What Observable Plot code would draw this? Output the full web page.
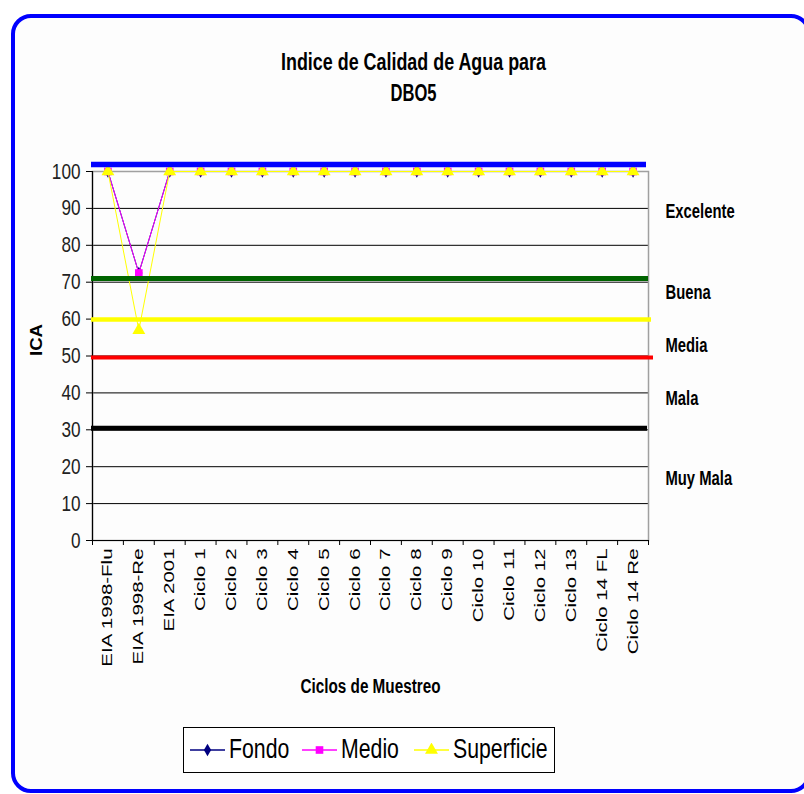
<!DOCTYPE html>
<html>
<head>
<meta charset="utf-8">
<script src="https://cdn.jsdelivr.net/npm/d3@7"></script>
<script src="https://cdn.jsdelivr.net/npm/@observablehq/plot@0.6"></script>
<style>
  body { margin: 0; background: #ffffff; }
  #wrap { position: relative; width: 804px; height: 794px; overflow: hidden; background: #ffffff; }
  #border { position: absolute; left: 11px; top: 14px; width: 800px; height: 779px; border: 4.5px solid #0000ff; border-radius: 20px; box-sizing: border-box; background: #fdfdfd; }
  #chart { position: absolute; left: 0; top: 0; }
  #legend { position: absolute; left: 183px; top: 727px; width: 372px; height: 46px; box-sizing: border-box; border: 1px solid #000; background: #fff;
            font-family: "Liberation Sans", Arial, sans-serif; font-size: 28px; color: #000; }
  .sw { position: absolute; top: 15px; line-height: 0; }
  .sw svg { display: block; }
  .lt { position: absolute; top: 4px; line-height: 34px; transform: scaleX(0.76); transform-origin: 0 50%; white-space: nowrap; }
</style>
</head>
<body>
<div id="wrap">
  <div id="border"></div>
  <div id="chart"></div>
  <div id="legend"></div>
</div>
<script>
// ---- data ----
const categories = ["EIA 1998-Flu", "EIA 1998-Re", "EIA 2001", "Ciclo 1", "Ciclo 2", "Ciclo 3", "Ciclo 4",
  "Ciclo 5", "Ciclo 6", "Ciclo 7", "Ciclo 8", "Ciclo 9", "Ciclo 10", "Ciclo 11", "Ciclo 12", "Ciclo 13",
  "Ciclo 14 FL", "Ciclo 14 Re"];
const seriesNames = ["Fondo", "Medio", "Superficie"];
const fondo      = [100, 72.5, 100, 100, 100, 100, 100, 100, 100, 100, 100, 100, 100, 100, 100, 100, 100, 100];
const medio      = [100, 72.5, 100, 100, 100, 100, 100, 100, 100, 100, 100, 100, 100, 100, 100, 100, 100, 100];
const superficie = [100, 57,   100, 100, 100, 100, 100, 100, 100, 100, 100, 100, 100, 100, 100, 100, 100, 100];
const yTicks = [0, 10, 20, 30, 40, 50, 60, 70, 80, 90, 100];
const gridValues = [10, 20, 30, 40, 50, 60, 70, 80, 90];
const thresholdValues = [101.9, 71.0, 59.9, 49.6, 30.4];
const qualityLabels = ["Excelente", "Buena", "Media", "Mala", "Muy Mala"];
const qualityLabelValues = [89.2, 67.3, 52.8, 38.4, 16.7];
const titleLines = ["Indice de Calidad de Agua para", "DBO5"];
const xTitle = "Ciclos de Muestreo";
const yTitle = "ICA";

// ---- styles ----
const seriesColors = ["#000080", "#ff00ff", "#ffff00"];
const seriesSymbols = ["diamond", "square", "triangle"];
const seriesR = [3.8, 4.3, 4.8];
const thresholdColors = ["#0000ff", "#006400", "#ffff00", "#ff0000", "#000000"];
const thresholdWidths = [5.5, 5, 4.5, 4, 5];
const thresholdExtend = [-2, 0, 3, 5, -1];
const arial = '"Liberation Sans", Arial, sans-serif';

const seriesData = [fondo, medio, superficie].map(vals => vals.map((v, i) => ({i, v})));
const boundaries = d3.range(categories.length + 1).map(i => i - 0.5);
const indices = d3.range(categories.length);

const marks = [
  Plot.gridY(gridValues, {stroke: "#000", strokeOpacity: 1, strokeWidth: 1}),
  Plot.frame({stroke: "#a0a0a0", strokeWidth: 1.5}),
  Plot.ruleY([0], {stroke: "#000", strokeWidth: 1.2}),
  Plot.ruleX([-0.5], {stroke: "#000", strokeWidth: 1.2}),
  Plot.axisY({ticks: yTicks, tickSize: 6, tickPadding: 6, stroke: "#000", fill: "#222", fontSize: 22, fontFamily: arial, label: null}),
  Plot.axisX({ticks: boundaries, tickSize: 5, stroke: "#000", fill: "none", label: null}),
  Plot.axisX({ticks: indices, tickSize: 0, tickPadding: 8, tickRotate: -90, textAnchor: "end",
    tickFormat: i => categories[i], fontSize: 14, fontFamily: arial, fill: "#000", label: null})
];
seriesData.forEach((d, s) => {
  marks.push(Plot.line(d, {x: "i", y: "v", stroke: seriesColors[s], strokeWidth: 1}));
  marks.push(Plot.dot(d, {x: "i", y: "v", symbol: seriesSymbols[s], r: seriesR[s], fill: seriesColors[s], stroke: "none"}));
});
thresholdValues.forEach((v, k) => {
  marks.push(Plot.ruleY([v], {stroke: thresholdColors[k], strokeWidth: thresholdWidths[k], insetLeft: -1, insetRight: -thresholdExtend[k]}));
});
marks.push(
  Plot.text([titleLines[0]], {ariaLabel: () => "title1", frameAnchor: "top", lineAnchor: "middle", dx: 43, dy: -109,
    fontSize: 23, fontWeight: "bold", fontFamily: arial, fill: "#000"}),
  Plot.text([titleLines[1]], {ariaLabel: () => "title2", frameAnchor: "top", lineAnchor: "middle", dx: 43, dy: -78,
    fontSize: 23, fontWeight: "bold", fontFamily: arial, fill: "#000"}),
  Plot.text([xTitle], {ariaLabel: () => "xtitle", frameAnchor: "bottom", lineAnchor: "middle", dy: 146, fontSize: 20, fontWeight: "bold", fontFamily: arial, fill: "#000"}),
  Plot.text([yTitle], {ariaLabel: () => "ytitle", frameAnchor: "left", dx: -56, rotate: -90, fontSize: 17, fontWeight: "bold", fontFamily: arial, fill: "#000"}),
  Plot.text(qualityLabels, {ariaLabel: () => "quality", y: (d, i) => qualityLabelValues[i], frameAnchor: "right", dx: 17, textAnchor: "start",
    fontSize: 20, fontWeight: "bold", fontFamily: arial, fill: "#000"})
);

const chart = Plot.plot({
  width: 804,
  height: 794,
  marginLeft: 92,
  marginRight: 156,
  marginTop: 171,
  marginBottom: 254,
  style: {background: "transparent", overflow: "visible", color: "#000"},
  x: {type: "linear", domain: [-0.5, categories.length - 0.5]},
  y: {type: "linear", domain: [0, 100]},
  marks
});
document.getElementById("chart").appendChild(chart);

// squeeze / stretch text like the original (vertically stretched rendering)
function fit(selector, f) {
  d3.select(chart).selectAll(selector).each(function() {
    const len = this.getComputedTextLength();
    this.setAttribute("textLength", typeof f === "function" ? f(len) : len * f);
    this.setAttribute("lengthAdjust", "spacingAndGlyphs");
  });
}
fit('g[aria-label="y-axis tick label"] text', 0.78);
fit('g[aria-label="x-axis tick label"] text', 1.46);
fit('text[aria-label="title1"]', () => 265);
fit('text[aria-label="title2"]', () => 46);
fit('text[aria-label="xtitle"]', () => 140);
fit('text[aria-label="ytitle"]', () => 32);
fit('text[aria-label="quality"]', 0.74);

// ---- legend ----
const legend = document.getElementById("legend");
const swLeft = [6, 118, 230];
const txtLeft = [45, 157, 269];
seriesNames.forEach((name, s) => {
  const symType = seriesSymbols[s] === "diamond" ? d3.symbolDiamond : seriesSymbols[s] === "square" ? d3.symbolSquare : d3.symbolTriangle;
  const sym = d3.symbol(symType, Math.PI * seriesR[s] * seriesR[s])();
  const sw = document.createElement("div");
  sw.className = "sw";
  sw.style.left = swLeft[s] + "px";
  sw.innerHTML = `<svg width="35" height="14"><line x1="0" x2="35" y1="7" y2="7" stroke="${seriesColors[s]}" stroke-width="1.5"/>` +
    `<path transform="translate(17.5,7)" d="${sym}" fill="${seriesColors[s]}"/></svg>`;
  legend.appendChild(sw);
  const t = document.createElement("span");
  t.className = "lt";
  t.style.left = txtLeft[s] + "px";
  t.textContent = name;
  legend.appendChild(t);
});
</script>
</body>
</html>
